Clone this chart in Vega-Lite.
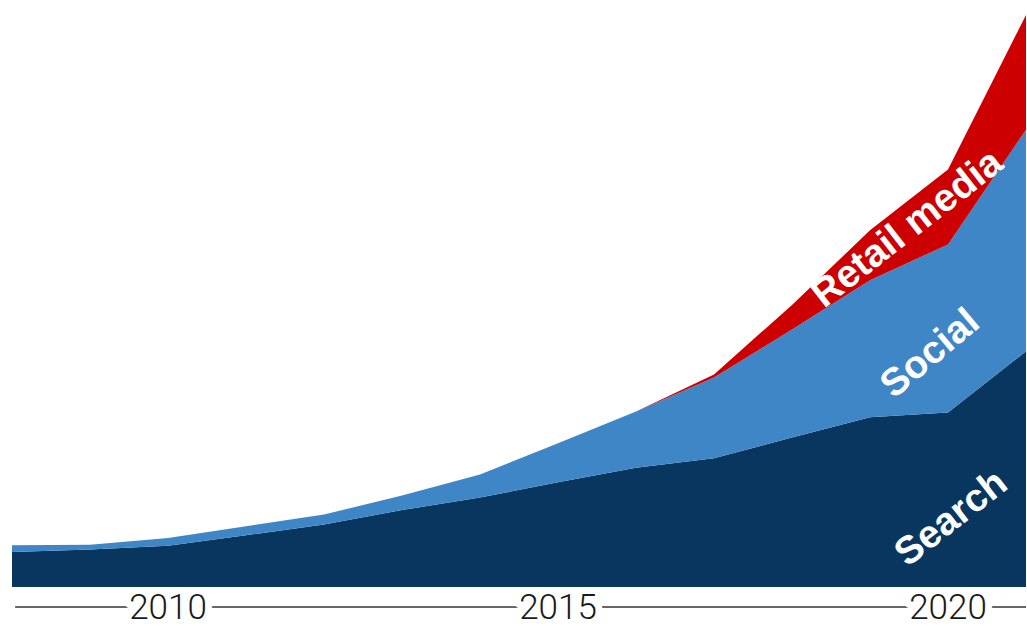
{
  "$schema": "https://vega.github.io/schema/vega-lite/v6.json",
  "width": 1027,
  "height": 626,
  "padding": 0,
  "autosize": {"type": "fit", "contains": "padding"},
  "background": "white",
  "config": {"view": {"stroke": null}},
  "datasets": {
    "spend": [
      {"year": 2008, "series": "Search", "value": 11.7},
      {"year": 2009, "series": "Search", "value": 12.5},
      {"year": 2010, "series": "Search", "value": 13.8},
      {"year": 2011, "series": "Search", "value": 17.3},
      {"year": 2012, "series": "Search", "value": 20.9},
      {"year": 2013, "series": "Search", "value": 25.7},
      {"year": 2014, "series": "Search", "value": 29.9},
      {"year": 2015, "series": "Search", "value": 35.0},
      {"year": 2016, "series": "Search", "value": 39.8},
      {"year": 2017, "series": "Search", "value": 43.0},
      {"year": 2018, "series": "Search", "value": 49.9},
      {"year": 2019, "series": "Search", "value": 56.7},
      {"year": 2020, "series": "Search", "value": 58.3},
      {"year": 2021, "series": "Search", "value": 78.7},
      {"year": 2008, "series": "Social", "value": 2.3},
      {"year": 2009, "series": "Social", "value": 1.6},
      {"year": 2010, "series": "Social", "value": 2.6},
      {"year": 2011, "series": "Social", "value": 3.0},
      {"year": 2012, "series": "Social", "value": 3.3},
      {"year": 2013, "series": "Social", "value": 4.9},
      {"year": 2014, "series": "Social", "value": 7.7},
      {"year": 2015, "series": "Social", "value": 13.0},
      {"year": 2016, "series": "Social", "value": 18.8},
      {"year": 2017, "series": "Social", "value": 27.0},
      {"year": 2018, "series": "Social", "value": 36.1},
      {"year": 2019, "series": "Social", "value": 45.7},
      {"year": 2020, "series": "Social", "value": 56.1},
      {"year": 2021, "series": "Social", "value": 74.0},
      {"year": 2017, "series": "Retail media", "value": 1.0},
      {"year": 2018, "series": "Retail media", "value": 8.2},
      {"year": 2019, "series": "Retail media", "value": 16.7},
      {"year": 2020, "series": "Retail media", "value": 25.0},
      {"year": 2021, "series": "Retail media", "value": 38.3}
    ],
    "ticks": [{"year": 2010}, {"year": 2015}, {"year": 2020}]
  },
  "layer": [
    {
      "data": {"name": "spend"},
      "transform": [
        {"calculate": "indexof(['Search', 'Social', 'Retail media'], datum.series)", "as": "stackOrder"}
      ],
      "mark": {"type": "area", "interpolate": "linear"},
      "encoding": {
        "x": {"field": "year", "type": "quantitative",
              "scale": {"domain": [2007.846, 2021], "nice": false, "zero": false},
              "axis": null},
        "y": {"field": "value", "type": "quantitative", "stack": "zero",
              "scale": {"domain": [-12.667, 196], "nice": false, "zero": false},
              "axis": null},
        "color": {"field": "series", "type": "nominal",
                  "scale": {"domain": ["Search", "Social", "Retail media"],
                            "range": ["#08365f", "#3f86c6", "#cc0000"]},
                  "legend": null},
        "order": {"field": "stackOrder", "type": "quantitative", "sort": "ascending"}
      }
    },
    {
      "data": {"values": [{"from": 2008.04, "to": 2021}]},
      "mark": {"type": "rule", "stroke": "#333333", "strokeWidth": 1.5},
      "encoding": {
        "x": {"field": "from", "type": "quantitative"},
        "x2": {"field": "to"},
        "y": {"datum": -6.67}
      }
    },
    {
      "data": {"name": "ticks"},
      "mark": {"type": "text", "font": "Roboto", "fontWeight": 300, "fontSize": 35,
               "align": "center", "baseline": "middle",
               "fill": "white", "stroke": "white", "strokeWidth": 14, "strokeJoin": "round"},
      "encoding": {
        "x": {"field": "year", "type": "quantitative"},
        "y": {"datum": -7},
        "text": {"field": "year", "type": "quantitative", "format": "d"}
      }
    },
    {
      "data": {"name": "ticks"},
      "mark": {"type": "text", "font": "Roboto", "fontWeight": 300, "fontSize": 35,
               "align": "center", "baseline": "middle", "fill": "#1a1a1a"},
      "encoding": {
        "x": {"field": "year", "type": "quantitative"},
        "y": {"datum": -7},
        "text": {"field": "year", "type": "quantitative", "format": "d"}
      }
    },
    {
      "data": {"values": [{"label": "Retail media"}]},
      "mark": {"type": "text", "font": "Liberation Sans", "fontWeight": "bold", "fontSize": 39,
               "align": "center", "baseline": "middle", "fill": "white", "angle": -38},
      "encoding": {
        "x": {"datum": 2019.476},
        "y": {"datum": 119.7},
        "text": {"field": "label"}
      }
    },
    {
      "data": {"values": [{"label": "Social"}]},
      "mark": {"type": "text", "font": "Liberation Sans", "fontWeight": "bold", "fontSize": 39,
               "align": "center", "baseline": "middle", "fill": "white", "angle": -40},
      "encoding": {
        "x": {"datum": 2019.77},
        "y": {"datum": 78},
        "text": {"field": "label"}
      }
    },
    {
      "data": {"values": [{"label": "Search"}]},
      "mark": {"type": "text", "font": "Liberation Sans", "fontWeight": "bold", "fontSize": 39,
               "align": "center", "baseline": "middle", "fill": "white", "angle": -38},
      "encoding": {
        "x": {"datum": 2020.04},
        "y": {"datum": 23},
        "text": {"field": "label"}
      }
    }
  ]
}
